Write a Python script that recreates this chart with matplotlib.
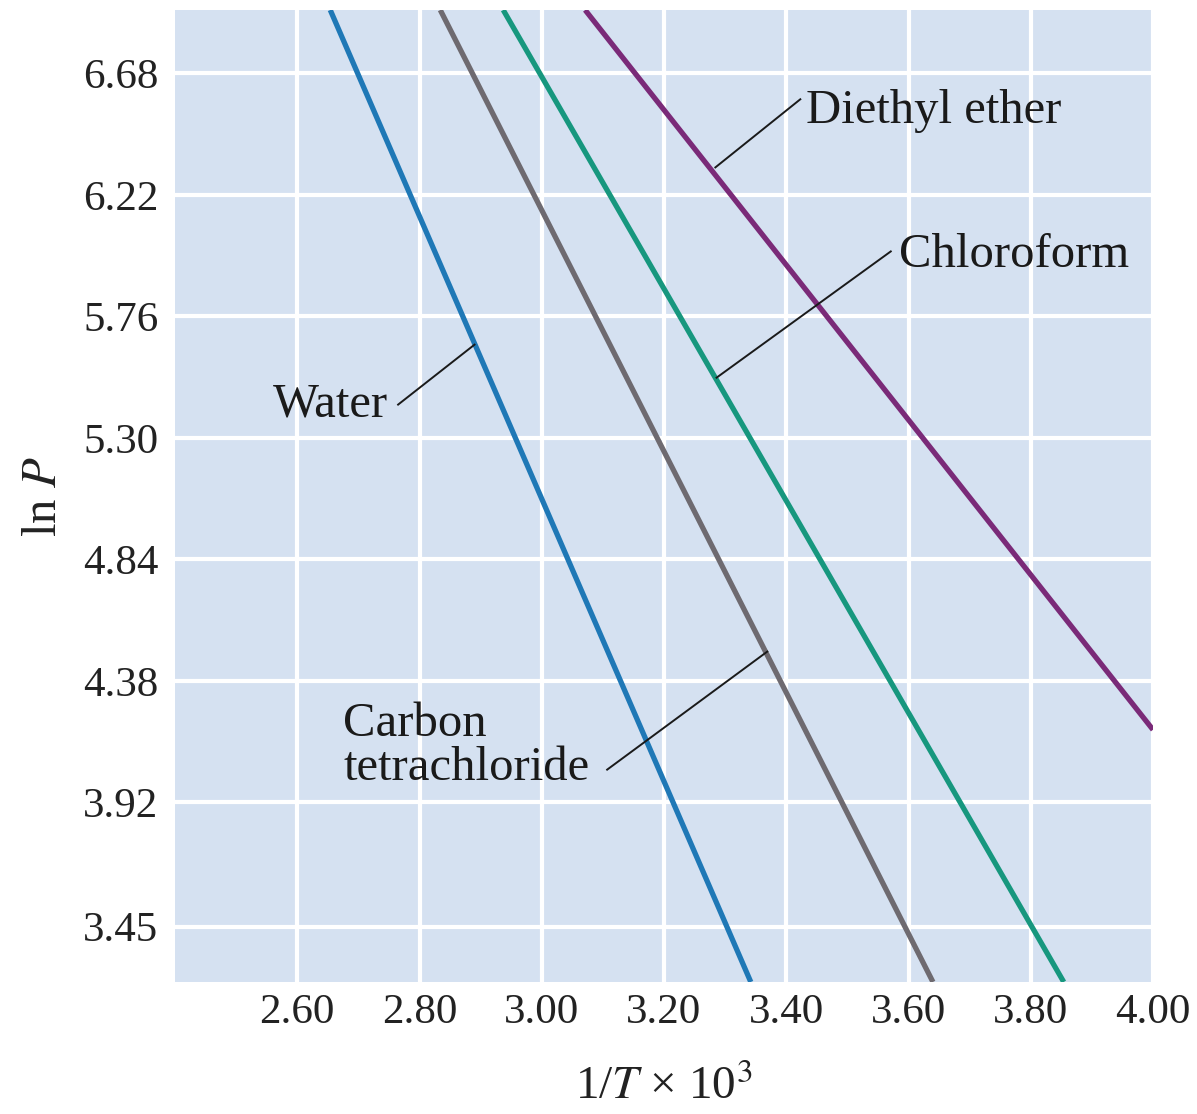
import matplotlib
matplotlib.use('Agg')
import matplotlib.pyplot as plt

# straight lines: (1/T x 10^3, ln P) at two ends
water_x = [2.654, 3.342]
water_y = [6.92, 3.24]
ccl4_x = [2.834, 3.640]
ccl4_y = [6.92, 3.24]
chloroform_x = [2.937, 3.854]
chloroform_y = [6.92, 3.24]
ether_x = [3.071, 4.00]
ether_y = [6.92, 4.195]

xticks = [2.60, 2.80, 3.00, 3.20, 3.40, 3.60, 3.80, 4.00]
yticks = [3.45, 3.92, 4.38, 4.84, 5.30, 5.76, 6.22, 6.68]

plt.rcParams['font.family'] = ['Liberation Serif', 'DejaVu Serif']
plt.rcParams['mathtext.fontset'] = 'stix'

fig = plt.figure(figsize=(11.97, 11.14), dpi=100)
ax = fig.add_axes([175 / 1197, 1 - 982 / 1114, (1153 - 175) / 1197, (982 - 10) / 1114])
ax.set_facecolor('#d5e1f1')
for s in ax.spines.values():
    s.set_visible(False)

ax.set_xlim(2.40, 4.00)
ax.set_ylim(3.24, 6.92)
ax.set_xticks(xticks, [f'{v:.2f}' for v in xticks])
ax.set_yticks(yticks, [f'{v:.2f}' for v in yticks])
ax.tick_params(axis='both', length=0, labelsize=31, colors='#222222')
ax.tick_params(axis='x', pad=8)
ax.tick_params(axis='y', pad=12)
ax.grid(True, color='white', lw=3)
ax.set_axisbelow(True)

ax.plot(water_x, water_y, color='#1f78b6', lw=3.8, solid_capstyle='butt')
ax.plot(ccl4_x, ccl4_y, color='#6e6a70', lw=3.8, solid_capstyle='butt')
ax.plot(chloroform_x, chloroform_y, color='#17977e', lw=3.8, solid_capstyle='butt')
ax.plot(ether_x, ether_y, color='#7a2a78', lw=3.8, solid_capstyle='butt')

# leader lines (text end -> curve)
lead = dict(color='#1a1a1a', lw=1.4)
ax.plot([3.423, 3.284], [6.582, 6.324], **lead)
ax.plot([3.571, 3.286], [6.006, 5.528], **lead)
ax.plot([2.765, 2.890], [5.426, 5.653], **lead)
ax.plot([3.107, 3.369], [4.044, 4.491], **lead)

lbl = dict(fontsize=35, color='#1a1a1a')
ax.text(3.432, 6.536, 'Diethyl ether', ha='left', va='center', **lbl)
ax.text(3.584, 5.994, 'Chloroform', ha='left', va='center', **lbl)
ax.text(2.748, 5.426, 'Water', ha='right', va='center', **lbl)
ax.text(2.675, 4.135, 'Carbon\ntetrachloride', ha='left', va='center',
        linespacing=1.0, **lbl)

ax.set_xlabel('1/$T$ \u00d7 10$^3$', fontsize=34, labelpad=24, color='#222222')
ax.set_ylabel('ln $P$', fontsize=35, labelpad=12, color='#222222')

fig.savefig('out.png', dpi=100)
